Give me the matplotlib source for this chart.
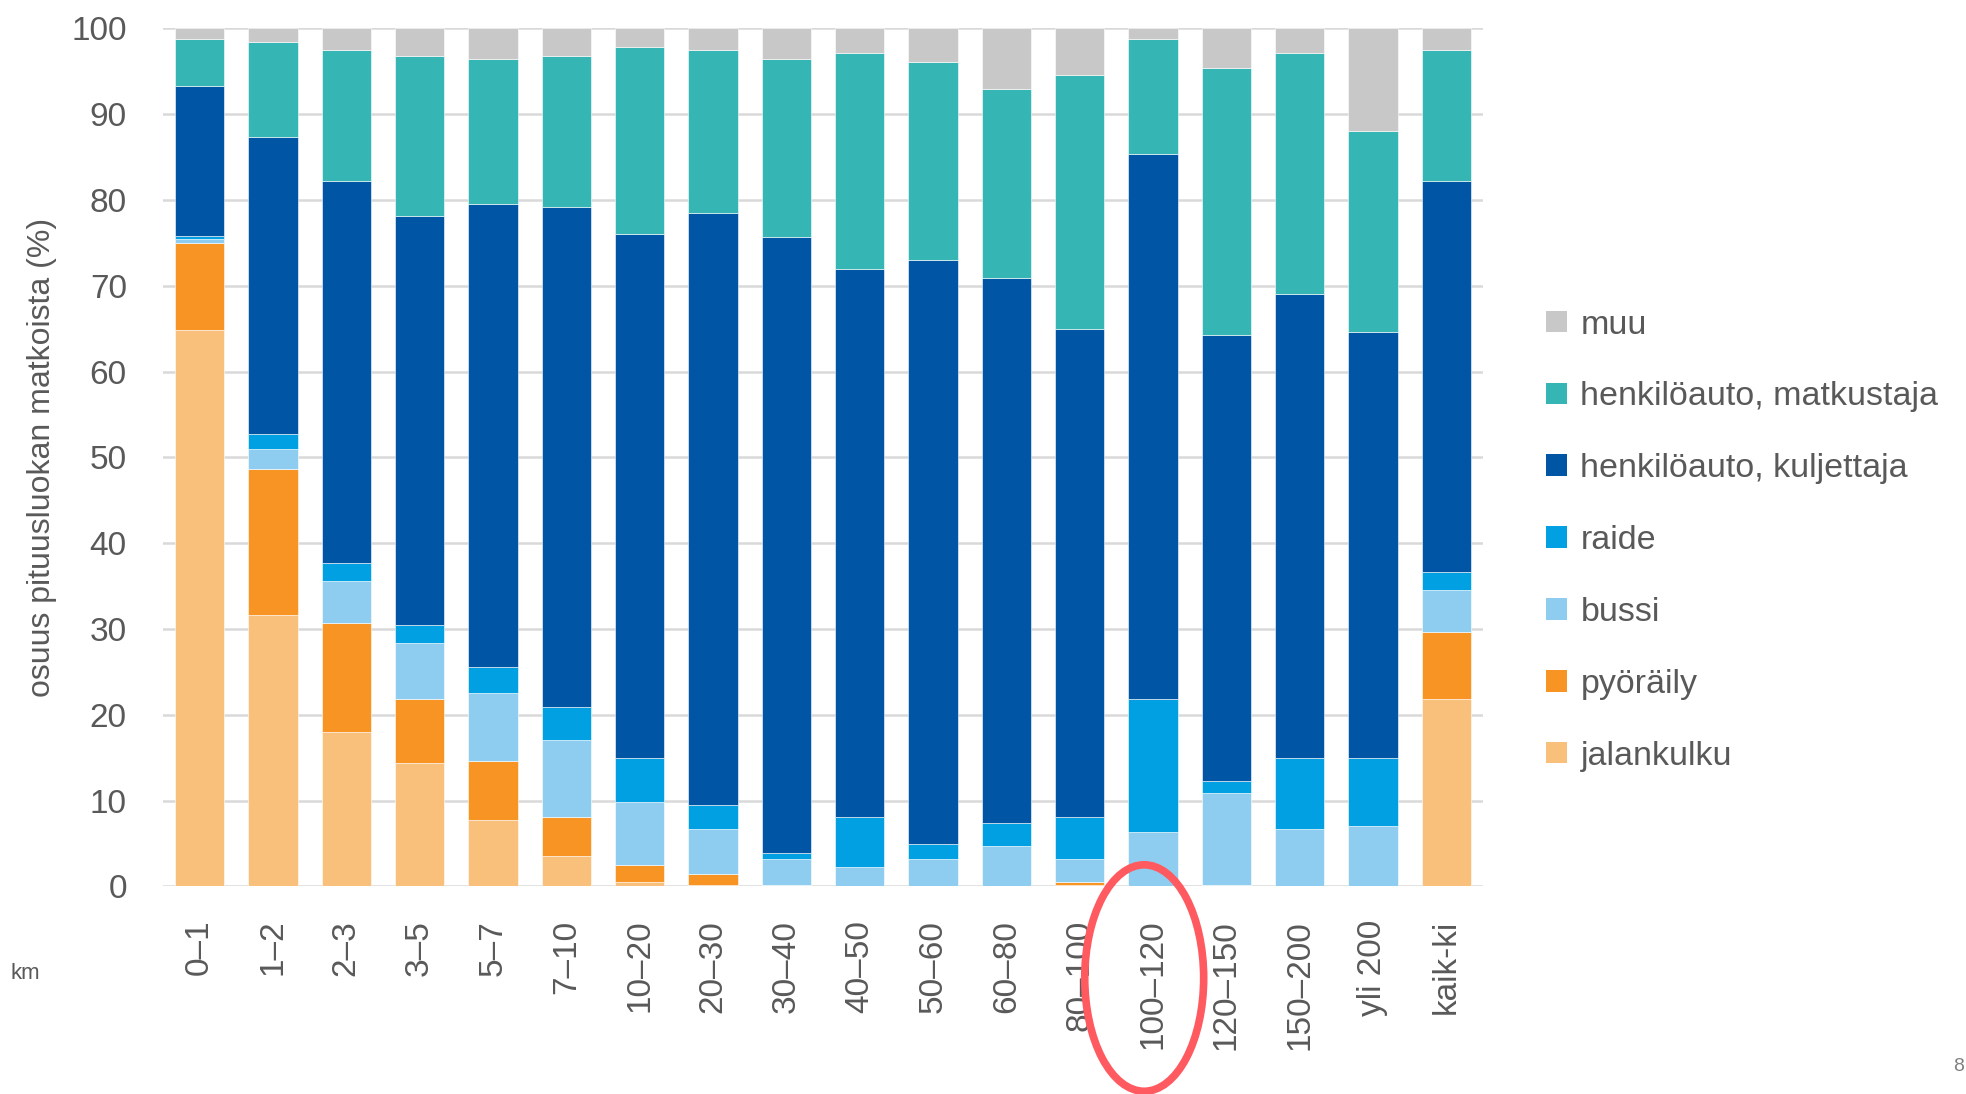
import matplotlib.pyplot as plt
from matplotlib.patches import Ellipse, Patch

# --- Data (share of trips, %) ---
categories = ['0–1', '1–2', '2–3', '3–5', '5–7', '7–10', '10–20', '20–30',
              '30–40', '40–50', '50–60', '60–80', '80–100', '100–120',
              '120–150', '150–200', 'yli 200', 'kaik-ki']

jalankulku = [64.8, 31.6, 18.0, 14.4, 7.8, 3.6, 0.5, 0.2, 0.2, 0.1, 0.1, 0.1, 0.2, 0.1, 0.2, 0.0, 0.0, 21.9]
pyoraily   = [10.2, 17.1, 12.7, 7.4, 6.8, 4.5, 2.0, 1.3, 0.0, 0.0, 0.0, 0.0, 0.3, 0.0, 0.0, 0.0, 0.0, 7.8]
bussi      = [0.5, 2.3, 4.9, 6.6, 7.9, 9.0, 7.3, 5.2, 3.0, 2.2, 3.1, 4.6, 2.7, 6.3, 10.7, 6.7, 7.0, 4.8]
raide      = [0.3, 1.7, 2.1, 2.1, 3.1, 3.8, 5.2, 2.8, 0.7, 5.8, 1.8, 2.7, 4.9, 15.5, 1.4, 8.3, 8.0, 2.1]
kuljettaja = [17.5, 34.6, 44.5, 47.6, 53.9, 58.3, 61.0, 69.0, 71.8, 63.9, 68.0, 63.5, 56.9, 63.5, 52.0, 54.1, 49.6, 45.6]
matkustaja = [5.5, 11.1, 15.3, 18.7, 16.9, 17.6, 21.8, 19.0, 20.7, 25.1, 23.1, 22.1, 29.6, 13.4, 31.1, 28.0, 23.5, 15.3]
muu        = [1.2, 1.6, 2.5, 3.2, 3.6, 3.2, 2.2, 2.5, 3.6, 2.9, 3.9, 7.0, 5.4, 1.2, 4.6, 2.9, 11.9, 2.5]

series = [
    ('jalankulku', jalankulku, '#F9C07C'),
    ('pyöräily', pyoraily, '#F79423'),
    ('bussi', bussi, '#8FCDF0'),
    ('raide', raide, '#00A0E3'),
    ('henkilöauto, kuljettaja', kuljettaja, '#0055A5'),
    ('henkilöauto, matkustaja', matkustaja, '#35B5B4'),
    ('muu', muu, '#C8C8C8'),
]

plt.rcParams['font.family'] = ['Liberation Sans', 'DejaVu Sans']
txt = '#595959'

fig = plt.figure(figsize=(19.66, 10.94), dpi=100)
ax = fig.add_axes([0.0829, 0.1897, 0.6714, 0.7843])

x = list(range(len(categories)))
bottom = [0.0] * len(categories)
for name, vals, col in series:
    ax.bar(x, vals, width=0.67, bottom=bottom, color=col,
           edgecolor='white', linewidth=0.4, zorder=3)
    bottom = [b + v for b, v in zip(bottom, vals)]

ax.set_xlim(-0.5, len(categories) - 0.5)
ax.set_ylim(0, 100)
ax.set_yticks(range(0, 101, 10))
ax.yaxis.grid(True, color='#D9D9D9', linewidth=1.8, zorder=0)
ax.set_axisbelow(True)
for s in ax.spines.values():
    s.set_visible(False)

ax.set_xticks(x)
ax.set_xticklabels(categories, rotation=90, fontsize=24, color=txt)
ax.tick_params(axis='x', length=0, pad=24)
ax.tick_params(axis='y', length=0, pad=26, labelsize=24, labelcolor=txt)

ax.set_ylabel('osuus pituusluokan matkoista (%)', fontsize=23, color=txt, labelpad=10)

# legend, top entry = top of stack
handles = [Patch(facecolor=col, label=name) for name, vals, col in reversed(series)]
fig.legend(handles=handles, loc='upper left', bbox_to_anchor=(0.771, 0.745),
           frameon=False, fontsize=24.5, labelcolor=txt, handlelength=0.6,
           handleheight=0.6, handletextpad=0.4, labelspacing=1.2)

fig.text(0.013, 0.11, 'km', fontsize=16, color=txt, ha='center', va='center')
fig.text(0.999, 0.025, '8', fontsize=14, color='#808080', ha='right', va='center')

# red highlight around 100–120
fig.patches.append(Ellipse((0.582, 0.106), 0.0605, 0.207, transform=fig.transFigure,
                           fill=False, edgecolor='#FF5A60', linewidth=5.5, zorder=10))

fig.savefig('out.png', dpi=100)
